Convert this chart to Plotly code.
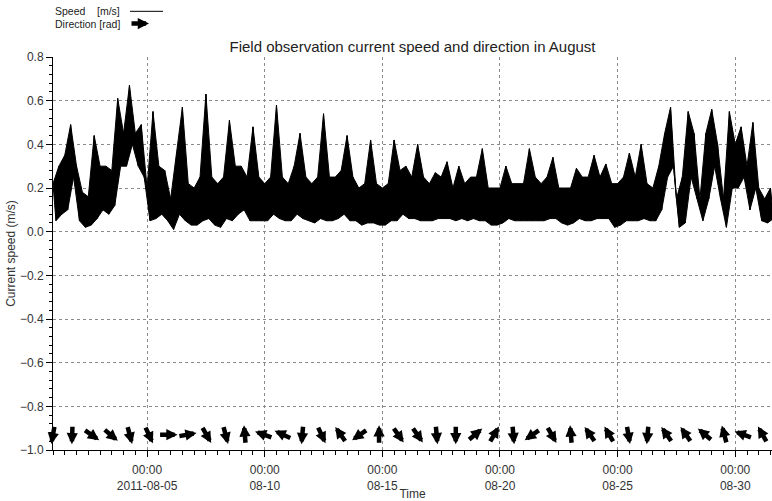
import math
import pandas as pd
import plotly.graph_objects as go

# ---------------- data ----------------
start = pd.Timestamp("2011-08-01 00:00")

# upper / lower envelope of the noisy speed record, one value per 6 hours (m/s)
speed_hi = [0.22, 0.30, 0.35, 0.49, 0.30, 0.18, 0.16, 0.44, 0.30, 0.30,
            0.28, 0.61, 0.45, 0.67, 0.45, 0.49, 0.20, 0.55, 0.30, 0.28,
            0.15, 0.35, 0.57, 0.22, 0.20, 0.25, 0.63, 0.25, 0.22, 0.25,
            0.51, 0.30, 0.30, 0.25, 0.48, 0.25, 0.22, 0.25, 0.58, 0.25,
            0.22, 0.30, 0.45, 0.25, 0.22, 0.25, 0.54, 0.25, 0.25, 0.28,
            0.44, 0.25, 0.20, 0.22, 0.42, 0.22, 0.20, 0.22, 0.42, 0.28,
            0.30, 0.25, 0.40, 0.25, 0.22, 0.27, 0.25, 0.32, 0.20, 0.30,
            0.22, 0.25, 0.25, 0.38, 0.20, 0.20, 0.20, 0.30, 0.22, 0.22,
            0.22, 0.38, 0.25, 0.22, 0.25, 0.34, 0.20, 0.20, 0.20, 0.29,
            0.25, 0.25, 0.35, 0.25, 0.31, 0.22, 0.22, 0.25, 0.36, 0.25,
            0.40, 0.22, 0.20, 0.30, 0.45, 0.57, 0.15, 0.25, 0.55, 0.45,
            0.15, 0.45, 0.56, 0.40, 0.15, 0.55, 0.40, 0.48, 0.30, 0.50,
            0.20, 0.15, 0.20]
speed_lo = [0.05, 0.08, 0.10, 0.25, 0.05, 0.02, 0.03, 0.06, 0.10, 0.08,
            0.12, 0.30, 0.30, 0.40, 0.30, 0.25, 0.05, 0.06, 0.08, 0.05,
            0.01, 0.08, 0.05, 0.03, 0.03, 0.05, 0.06, 0.03, 0.02, 0.06,
            0.05, 0.08, 0.10, 0.05, 0.05, 0.05, 0.05, 0.08, 0.06, 0.05,
            0.05, 0.08, 0.06, 0.05, 0.04, 0.06, 0.05, 0.05, 0.06, 0.08,
            0.05, 0.05, 0.03, 0.04, 0.04, 0.03, 0.03, 0.05, 0.05, 0.08,
            0.06, 0.06, 0.05, 0.05, 0.05, 0.06, 0.06, 0.06, 0.05, 0.06,
            0.05, 0.06, 0.05, 0.05, 0.03, 0.03, 0.04, 0.06, 0.05, 0.05,
            0.05, 0.05, 0.05, 0.05, 0.06, 0.06, 0.04, 0.03, 0.04, 0.06,
            0.05, 0.05, 0.06, 0.06, 0.06, 0.02, 0.03, 0.05, 0.05, 0.05,
            0.06, 0.05, 0.05, 0.10, 0.25, 0.30, 0.02, 0.04, 0.25, 0.15,
            0.05, 0.15, 0.30, 0.15, 0.02, 0.20, 0.20, 0.25, 0.10, 0.20,
            0.05, 0.04, 0.06]

# current direction (degrees, counter-clockwise from east)
dir_deg = [-100, -92, -35, -40, -75, -65, 0, 10, -60, -75,
           95, 160, 155, -95, -65, 125, -145, 90, -55, -55,
           -85, -90, 40, 60, -85, -145, -60, 95, 125, 120,
           -80, -95, 125, 125, 140, 105, 160, 120]
dir_y = -0.93

tick_dates = ["2011-08-05", "2011-08-10", "2011-08-15", "2011-08-20",
              "2011-08-25", "2011-08-30"]
tick_text = ["00:00<br>2011-08-05", "00:00<br>08-10", "00:00<br>08-15",
             "00:00<br>08-20", "00:00<br>08-25", "00:00<br>08-30"]

# ---------------- build series ----------------
t_hi = pd.date_range(start, periods=len(speed_hi), freq="6h")
t_lo = t_hi + pd.Timedelta("3h")
times, vals = [], []
for th, vh, tl, vl in zip(t_hi, speed_hi, t_lo, speed_lo):
    times += [th, tl]
    vals += [vh, vl]

dir_times = pd.date_range(start, periods=len(dir_deg), freq="19h34min")

FONT = "Liberation Sans, Arial, sans-serif"
fig = go.Figure()
# dense noisy record drawn as the band between its envelopes
fig.add_trace(go.Scatter(x=t_lo, y=speed_lo, mode="lines",
                         line=dict(color="black", width=1),
                         showlegend=False, hoverinfo="skip"))
fig.add_trace(go.Scatter(x=t_hi, y=speed_hi, mode="lines",
                         line=dict(color="black", width=1),
                         fill="tonexty", fillcolor="black",
                         showlegend=False, hoverinfo="skip"))
fig.add_trace(go.Scatter(x=times, y=vals, mode="lines",
                         line=dict(color="black", width=1),
                         showlegend=False, hoverinfo="skip"))

L = 19.0
annotations = []
for t, d in zip(dir_times, dir_deg):
    th = math.radians(d)
    c, s = math.cos(th), math.sin(th)
    annotations.append(dict(
        x=t, y=dir_y, xref="x", yref="y", text="", showarrow=True,
        axref="pixel", ayref="pixel", ax=-L * c, ay=L * s,
        xshift=L / 2 * c, yshift=L / 2 * s,
        arrowhead=2, arrowsize=0.5, arrowwidth=4.5, arrowcolor="black"))


def px_x(p):
    return (p - 53) / (772 - 53)


def px_y(p):
    return (457 - p) / (457 - 57)


annotations += [
    dict(x=px_x(53), y=px_y(10), xref="paper", yref="paper",
         text="Speed&nbsp;&nbsp;&nbsp;&nbsp;[m/s]", showarrow=False,
         xanchor="left", yanchor="middle",
         font=dict(family=FONT, size=10.5, color="#222")),
    dict(x=px_x(53), y=px_y(23), xref="paper", yref="paper",
         text="Direction [rad]", showarrow=False,
         xanchor="left", yanchor="middle",
         font=dict(family=FONT, size=10.5, color="#222")),
    dict(x=px_x(149), y=px_y(23), xref="paper", yref="paper",
         text="", showarrow=True, axref="pixel", ayref="pixel",
         ax=-19, ay=0, arrowhead=2, arrowsize=0.5, arrowwidth=4.5,
         arrowcolor="black"),
]

fig.add_shape(type="line", xref="paper", yref="paper",
              x0=px_x(130), x1=px_x(163), y0=px_y(10.5), y1=px_y(10.5),
              line=dict(color="black", width=1))

grid = dict(showgrid=True, gridcolor="#8a8a8a", gridwidth=1,
            griddash="3px,3px")

fig.update_layout(
    width=772, height=501,
    margin=dict(l=53, r=0, t=57, b=44),
    paper_bgcolor="white", plot_bgcolor="white",
    title=dict(text="Field observation current speed and direction in August",
               x=(53 + 772) / 2 / 772, xanchor="center",
               y=1 - 47 / 501, yanchor="middle",
               font=dict(family=FONT, size=15, color="#222")),
    font=dict(family=FONT, size=12, color="#333"),
    annotations=annotations,
    xaxis=dict(
        range=["2011-08-01 00:00", "2011-08-31 13:30"],
        tickmode="array", tickvals=tick_dates, ticktext=tick_text,
        ticks="outside", ticklen=6, tickcolor="black",
        ticklabelstandoff=3,
        showline=True, linecolor="black", linewidth=1, mirror=False,
        zeroline=False,
        minor=dict(tick0="2011-08-01", dtick=12 * 3600 * 1000,
                   ticks="outside", ticklen=4, tickcolor="black",
                   showgrid=False),
        title=dict(text="Time", standoff=0,
                   font=dict(family=FONT, size=12, color="#333")),
        tickfont=dict(family=FONT, size=12, color="#333"),
        **grid),
    yaxis=dict(
        range=[-1.0, 0.8], dtick=0.2, tick0=0, tickformat=".1f",
        ticks="outside", ticklen=6, tickcolor="black",
        showline=True, linecolor="black", linewidth=1, mirror=False,
        zeroline=False,
        minor=dict(dtick=0.04, tick0=0, ticks="outside", ticklen=3,
                   tickcolor="black", showgrid=False),
        title=dict(text="Current speed (m/s)", standoff=1,
                   font=dict(family=FONT, size=12, color="#333")),
        tickfont=dict(family=FONT, size=12, color="#333"),
        **grid),
)

fig.write_html("out.html")
